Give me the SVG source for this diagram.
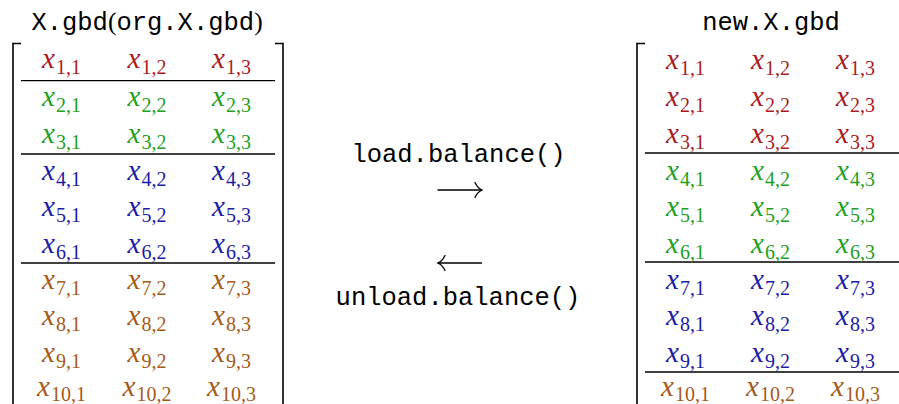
<svg xmlns="http://www.w3.org/2000/svg" width="899" height="404" viewBox="0 0 899 404">
<style>
text{font-family:"Liberation Serif","Times New Roman",serif;}
.cell{text-anchor:middle;font-size:29px;}
.v{font-style:italic;}
.s{font-size:20px;}
.r{fill:#a81c1c;}
.g{fill:#21a021;}
.b{fill:#1c1ca6;}
.o{fill:#a65a16;}
.tt{font-family:"Liberation Mono","Courier New",monospace;font-size:25.5px;fill:#000;text-anchor:middle;}
.rm{font-family:"Liberation Serif",serif;}
.br{fill:none;stroke:#000;stroke-width:1.6;}
.hl{stroke:#000;stroke-width:1.3;}
.ar{fill:none;stroke:#000;stroke-width:1.3;stroke-linecap:round;}
</style>
<g id="matrix-left">
<text class="tt" x="147" y="30">X.gbd<tspan class="rm">(</tspan>org.X.gbd<tspan class="rm">)</tspan></text>
<path class="br" d="M21,43.5H13V404"/>
<path class="br" d="M275,43.5H283V404"/>
<line class="hl" x1="21" y1="80.7" x2="275" y2="80.7"/>
<line class="hl" x1="21" y1="154" x2="275" y2="154"/>
<line class="hl" x1="21" y1="263" x2="275" y2="263"/>
<g class="cell r">
<text x="61.5" y="68"><tspan class="v">x</tspan><tspan class="s" dx="1" dy="5.5">1,1</tspan></text>
<text x="147" y="68"><tspan class="v">x</tspan><tspan class="s" dx="1" dy="5.5">1,2</tspan></text>
<text x="231.5" y="68"><tspan class="v">x</tspan><tspan class="s" dx="1" dy="5.5">1,3</tspan></text>
</g>
<g class="cell g">
<text x="61.5" y="106"><tspan class="v">x</tspan><tspan class="s" dx="1" dy="5.5">2,1</tspan></text>
<text x="147" y="106"><tspan class="v">x</tspan><tspan class="s" dx="1" dy="5.5">2,2</tspan></text>
<text x="231.5" y="106"><tspan class="v">x</tspan><tspan class="s" dx="1" dy="5.5">2,3</tspan></text>
<text x="61.5" y="143"><tspan class="v">x</tspan><tspan class="s" dx="1" dy="5.5">3,1</tspan></text>
<text x="147" y="143"><tspan class="v">x</tspan><tspan class="s" dx="1" dy="5.5">3,2</tspan></text>
<text x="231.5" y="143"><tspan class="v">x</tspan><tspan class="s" dx="1" dy="5.5">3,3</tspan></text>
</g>
<g class="cell b">
<text x="61.5" y="180"><tspan class="v">x</tspan><tspan class="s" dx="1" dy="5.5">4,1</tspan></text>
<text x="147" y="180"><tspan class="v">x</tspan><tspan class="s" dx="1" dy="5.5">4,2</tspan></text>
<text x="231.5" y="180"><tspan class="v">x</tspan><tspan class="s" dx="1" dy="5.5">4,3</tspan></text>
<text x="61.5" y="216"><tspan class="v">x</tspan><tspan class="s" dx="1" dy="5.5">5,1</tspan></text>
<text x="147" y="216"><tspan class="v">x</tspan><tspan class="s" dx="1" dy="5.5">5,2</tspan></text>
<text x="231.5" y="216"><tspan class="v">x</tspan><tspan class="s" dx="1" dy="5.5">5,3</tspan></text>
<text x="61.5" y="253"><tspan class="v">x</tspan><tspan class="s" dx="1" dy="5.5">6,1</tspan></text>
<text x="147" y="253"><tspan class="v">x</tspan><tspan class="s" dx="1" dy="5.5">6,2</tspan></text>
<text x="231.5" y="253"><tspan class="v">x</tspan><tspan class="s" dx="1" dy="5.5">6,3</tspan></text>
</g>
<g class="cell o">
<text x="61.5" y="289"><tspan class="v">x</tspan><tspan class="s" dx="1" dy="5.5">7,1</tspan></text>
<text x="147" y="289"><tspan class="v">x</tspan><tspan class="s" dx="1" dy="5.5">7,2</tspan></text>
<text x="231.5" y="289"><tspan class="v">x</tspan><tspan class="s" dx="1" dy="5.5">7,3</tspan></text>
<text x="61.5" y="325"><tspan class="v">x</tspan><tspan class="s" dx="1" dy="5.5">8,1</tspan></text>
<text x="147" y="325"><tspan class="v">x</tspan><tspan class="s" dx="1" dy="5.5">8,2</tspan></text>
<text x="231.5" y="325"><tspan class="v">x</tspan><tspan class="s" dx="1" dy="5.5">8,3</tspan></text>
<text x="61.5" y="362"><tspan class="v">x</tspan><tspan class="s" dx="1" dy="5.5">9,1</tspan></text>
<text x="147" y="362"><tspan class="v">x</tspan><tspan class="s" dx="1" dy="5.5">9,2</tspan></text>
<text x="231.5" y="362"><tspan class="v">x</tspan><tspan class="s" dx="1" dy="5.5">9,3</tspan></text>
<text x="61.5" y="396"><tspan class="v">x</tspan><tspan class="s" dx="1" dy="5">10,1</tspan></text>
<text x="147" y="396"><tspan class="v">x</tspan><tspan class="s" dx="1" dy="5">10,2</tspan></text>
<text x="231.5" y="396"><tspan class="v">x</tspan><tspan class="s" dx="1" dy="5">10,3</tspan></text>
</g>
</g>
<g id="matrix-right">
<text class="tt" x="771" y="30">new.X.gbd</text>
<path class="br" d="M645,43.5H637V404"/>
<line class="hl" x1="645" y1="153" x2="899" y2="153"/>
<line class="hl" x1="645" y1="262" x2="899" y2="262"/>
<line class="hl" x1="645" y1="372" x2="899" y2="372"/>
<g class="cell r">
<text x="685.5" y="69"><tspan class="v">x</tspan><tspan class="s" dx="1" dy="5.5">1,1</tspan></text>
<text x="770.5" y="69"><tspan class="v">x</tspan><tspan class="s" dx="1" dy="5.5">1,2</tspan></text>
<text x="855.5" y="69"><tspan class="v">x</tspan><tspan class="s" dx="1" dy="5.5">1,3</tspan></text>
<text x="685.5" y="106"><tspan class="v">x</tspan><tspan class="s" dx="1" dy="5.5">2,1</tspan></text>
<text x="770.5" y="106"><tspan class="v">x</tspan><tspan class="s" dx="1" dy="5.5">2,2</tspan></text>
<text x="855.5" y="106"><tspan class="v">x</tspan><tspan class="s" dx="1" dy="5.5">2,3</tspan></text>
<text x="685.5" y="143"><tspan class="v">x</tspan><tspan class="s" dx="1" dy="5.5">3,1</tspan></text>
<text x="770.5" y="143"><tspan class="v">x</tspan><tspan class="s" dx="1" dy="5.5">3,2</tspan></text>
<text x="855.5" y="143"><tspan class="v">x</tspan><tspan class="s" dx="1" dy="5.5">3,3</tspan></text>
</g>
<g class="cell g">
<text x="685.5" y="180"><tspan class="v">x</tspan><tspan class="s" dx="1" dy="5.5">4,1</tspan></text>
<text x="770.5" y="180"><tspan class="v">x</tspan><tspan class="s" dx="1" dy="5.5">4,2</tspan></text>
<text x="855.5" y="180"><tspan class="v">x</tspan><tspan class="s" dx="1" dy="5.5">4,3</tspan></text>
<text x="685.5" y="216"><tspan class="v">x</tspan><tspan class="s" dx="1" dy="5.5">5,1</tspan></text>
<text x="770.5" y="216"><tspan class="v">x</tspan><tspan class="s" dx="1" dy="5.5">5,2</tspan></text>
<text x="855.5" y="216"><tspan class="v">x</tspan><tspan class="s" dx="1" dy="5.5">5,3</tspan></text>
<text x="685.5" y="253"><tspan class="v">x</tspan><tspan class="s" dx="1" dy="5.5">6,1</tspan></text>
<text x="770.5" y="253"><tspan class="v">x</tspan><tspan class="s" dx="1" dy="5.5">6,2</tspan></text>
<text x="855.5" y="253"><tspan class="v">x</tspan><tspan class="s" dx="1" dy="5.5">6,3</tspan></text>
</g>
<g class="cell b">
<text x="685.5" y="289"><tspan class="v">x</tspan><tspan class="s" dx="1" dy="5.5">7,1</tspan></text>
<text x="770.5" y="289"><tspan class="v">x</tspan><tspan class="s" dx="1" dy="5.5">7,2</tspan></text>
<text x="855.5" y="289"><tspan class="v">x</tspan><tspan class="s" dx="1" dy="5.5">7,3</tspan></text>
<text x="685.5" y="325"><tspan class="v">x</tspan><tspan class="s" dx="1" dy="5.5">8,1</tspan></text>
<text x="770.5" y="325"><tspan class="v">x</tspan><tspan class="s" dx="1" dy="5.5">8,2</tspan></text>
<text x="855.5" y="325"><tspan class="v">x</tspan><tspan class="s" dx="1" dy="5.5">8,3</tspan></text>
<text x="685.5" y="362"><tspan class="v">x</tspan><tspan class="s" dx="1" dy="5.5">9,1</tspan></text>
<text x="770.5" y="362"><tspan class="v">x</tspan><tspan class="s" dx="1" dy="5.5">9,2</tspan></text>
<text x="855.5" y="362"><tspan class="v">x</tspan><tspan class="s" dx="1" dy="5.5">9,3</tspan></text>
</g>
<g class="cell o">
<text x="685.5" y="396"><tspan class="v">x</tspan><tspan class="s" dx="1" dy="5">10,1</tspan></text>
<text x="770.5" y="396"><tspan class="v">x</tspan><tspan class="s" dx="1" dy="5">10,2</tspan></text>
<text x="855.5" y="396"><tspan class="v">x</tspan><tspan class="s" dx="1" dy="5">10,3</tspan></text>
</g>
</g>
<g id="connectors">
<text class="tt" x="458.5" y="162">load.balance()</text>
<path class="ar" d="M438,190H481.5"/>
<path class="ar" d="M475,182.5Q477.5,188 482,190Q477.5,192 475,197.5"/>
<path class="ar" d="M438,263H481.5"/>
<path class="ar" d="M445,255.5Q442.5,261 438,263Q442.5,265 445,270.5"/>
<text class="tt" x="458" y="305">unload.balance()</text>
</g>
</svg>
